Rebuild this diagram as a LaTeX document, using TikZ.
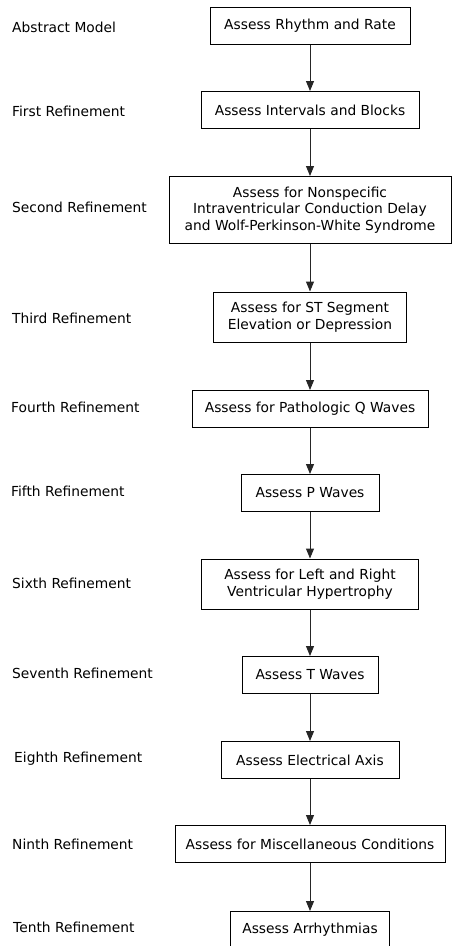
\documentclass[tikz,border=0pt]{standalone}
\usepackage{fontspec}
\setmainfont{DejaVu Sans}
\usetikzlibrary{arrows.meta}
\tikzset{
  stage/.style={draw, line width=1pt, align=center, inner sep=0pt,
    minimum height=37pt, font=\fontsize{13.8}{16.7}\selectfont},
  level/.style={anchor=west, inner sep=0pt, font=\fontsize{13.8}{16.7}\selectfont},
  flow/.style={-{Triangle[length=10pt,width=8pt]}, line width=1pt, black!85}
}
\begin{document}
\begin{tikzpicture}[x=1pt, y=-1pt]
  \useasboundingbox (0,0) rectangle (452,946);
  % stages
  \node[stage, minimum width=200pt] (rate) at (310,26) {Assess Rhythm and Rate};
  \node[stage, minimum width=218pt] (blocks) at (310,110) {Assess Intervals and Blocks};
  \node[stage, minimum width=282pt, minimum height=67pt] (ivcd) at (310,210)
    {Assess for Nonspecific\\Intraventricular Conduction Delay\\and Wolf-Perkinson-White Syndrome};
  \node[stage, minimum width=193pt, minimum height=50pt] (st) at (310,317)
    {Assess for ST Segment\\Elevation or Depression};
  \node[stage, minimum width=236pt] (qwave) at (310,409) {Assess for Pathologic Q Waves};
  \node[stage, minimum width=138pt] (pwave) at (310,493) {Assess P Waves};
  \node[stage, minimum width=217pt, minimum height=50pt] (hyper) at (310,584)
    {Assess for Left and Right\\Ventricular Hypertrophy};
  \node[stage, minimum width=136pt] (twave) at (310,675) {Assess T Waves};
  \node[stage, minimum width=178pt] (axis) at (310,760) {Assess Electrical Axis};
  \node[stage, minimum width=270pt] (misc) at (310,844) {Assess for Miscellaneous Conditions};
  \node[stage, minimum width=159pt] (arrhy) at (310,930) {Assess Arrhythmias};
  % arrows
  \foreach \a/\b in {rate/blocks, blocks/ivcd, ivcd/st, st/qwave, qwave/pwave,
    pwave/hyper, hyper/twave, twave/axis, axis/misc, misc/arrhy}
    \draw[flow] (\a) -- (\b);
  % levels
  \node[level] (abstract) at (12,27) {Abstract Model};
  \node[level] (first) at (12,111) {First Refinement};
  \node[level] (second) at (12,207) {Second Refinement};
  \node[level] (third) at (12,318) {Third Refinement};
  \node[level] (fourth) at (11,407) {Fourth Refinement};
  \node[level] (fifth) at (11,491) {Fifth Refinement};
  \node[level] (sixth) at (12,583) {Sixth Refinement};
  \node[level] (seventh) at (12,673) {Seventh Refinement};
  \node[level] (eighth) at (14,759) {Eighth Refinement};
  \node[level] (ninth) at (12,844) {Ninth Refinement};
  \node[level] (tenth) at (13,927) {Tenth Refinement};
\end{tikzpicture}
\end{document}
